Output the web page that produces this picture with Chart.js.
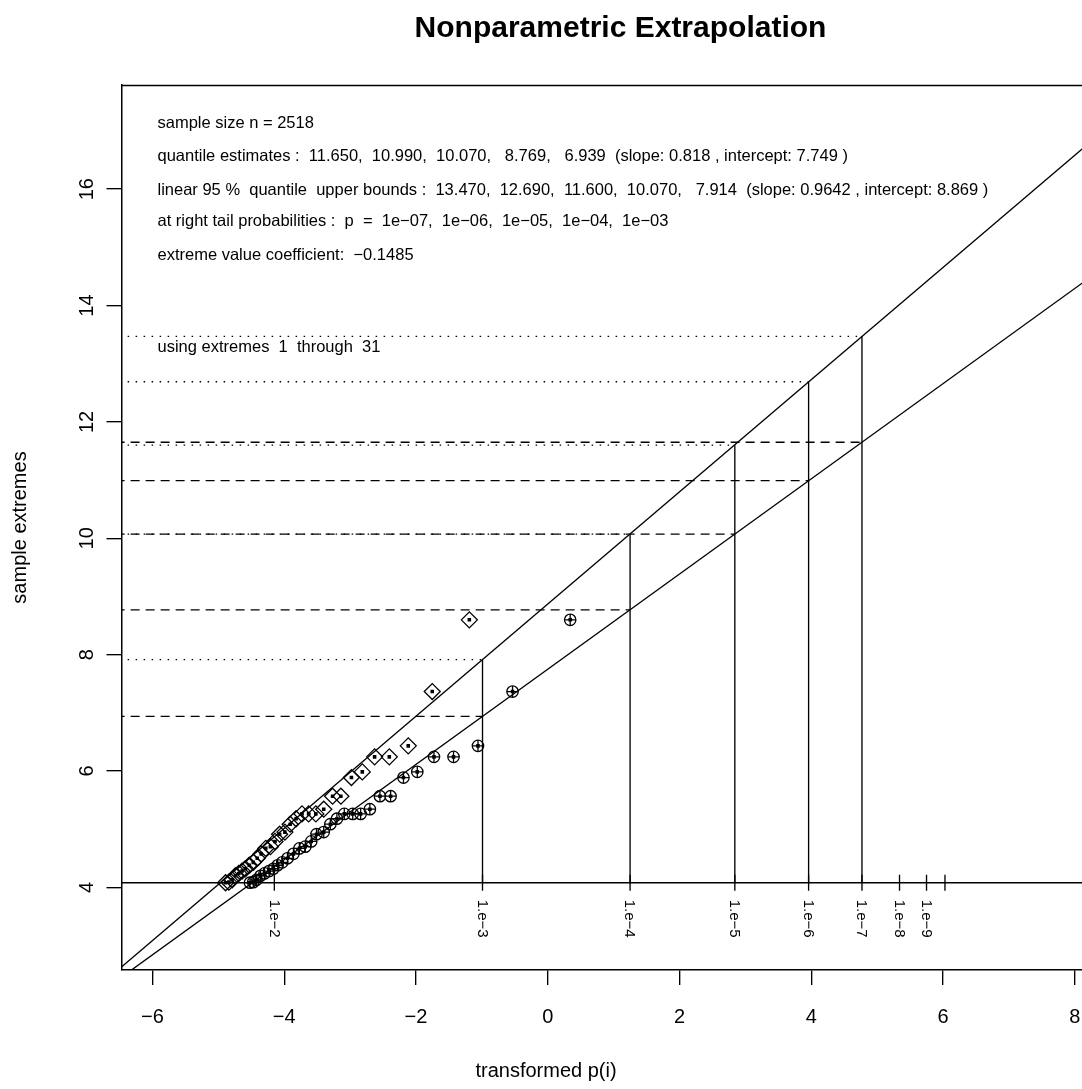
<!DOCTYPE html>
<html><head><meta charset="utf-8">
<script src="https://cdn.jsdelivr.net/npm/chart.js@4/dist/chart.umd.min.js"></script>
<style>html,body{margin:0;padding:0;background:#fff;overflow:hidden;} canvas{display:block;}</style>
</head><body>
<canvas id="c" width="1082" height="1089"></canvas>
<script>
// ---------- data ----------
const chartTitle = "Nonparametric Extrapolation";
const xTitle = "transformed p(i)";
const yTitle = "sample extremes";
const xTicks = [-6, -4, -2, 0, 2, 4, 6, 8];
const yTicks = [4, 6, 8, 10, 12, 14, 16];
const xRange = [-6.47, 8.11];
const yRange = [2.58, 17.79];

// sample extremes (y) and their transformed plotting positions
const extremes = [8.598, 7.365, 6.432, 6.243, 6.243, 5.985, 5.887, 5.567, 5.567, 5.344,
  5.263, 5.263, 5.263, 5.18, 5.086, 4.95, 4.914, 4.79, 4.70, 4.67,
  4.576, 4.50, 4.43, 4.38, 4.32, 4.28, 4.24, 4.20, 4.13, 4.09, 4.08];
const circleX = [0.341, -0.534, -1.059, -1.43, -1.727, -1.98, -2.19, -2.385, -2.547, -2.70,
  -2.84, -2.96, -3.088, -3.2, -3.3, -3.40, -3.51, -3.59, -3.68, -3.77,
  -3.86, -3.95, -4.03, -4.10, -4.165, -4.23, -4.30, -4.36, -4.42, -4.47, -4.52];
const diamondX = [-1.19, -1.753, -2.117, -2.405, -2.628, -2.815, -2.98, -3.14, -3.266, -3.40,
  -3.52, -3.63, -3.73, -3.82, -3.91, -3.99, -4.07, -4.14, -4.21, -4.28,
  -4.35, -4.41, -4.47, -4.53, -4.59, -4.64, -4.69, -4.74, -4.79, -4.84, -4.89];

const threshold = 4.08;
const probPos = [-4.15, -0.99, 1.25, 2.84, 3.96, 4.77, 5.34, 5.75, 6.03];
const probLabels = ["1.e\u22122", "1.e\u22123", "1.e\u22124", "1.e\u22125", "1.e\u22126", "1.e\u22127", "1.e\u22128", "1.e\u22129", ""];

// quantiles at p = 1e-7, 1e-6, 1e-5, 1e-4, 1e-3
const quantPos = [4.77, 3.96, 2.84, 1.25, -0.99];
const quantEst = [11.650, 10.990, 10.070, 8.769, 6.939];
const quantUpper = [13.470, 12.690, 11.600, 10.070, 7.914];
const estSlope = 0.818, estIntercept = 7.749;
const upSlope = 0.9642, upIntercept = 8.869;

const infoLines = [
  "sample size n = 2518",
  "quantile estimates :  11.650,  10.990,  10.070,   8.769,   6.939  (slope: 0.818 , intercept: 7.749 )",
  "linear 95 %  quantile  upper bounds :  13.470,  12.690,  11.600,  10.070,   7.914  (slope: 0.9642 , intercept: 8.869 )",
  "at right tail probabilities :  p  =  1e\u221207,  1e\u221206,  1e\u221205,  1e\u221204,  1e\u221203",
  "extreme value coefficient:  \u22120.1485"
];
const rangeNote = "using extremes  1  through  31";

// ---------- styles ----------
const FONT = "'Liberation Sans', Arial, Helvetica, sans-serif";
const LW = 1.35;
const DASH = [9, 6];
const DOT = [1.5, 6.5];

const pointDs = (xs, style, r, filled) => ({
  type: 'scatter',
  data: extremes.map((y, i) => ({ x: xs[i], y })),
  pointStyle: style, pointRadius: r, pointHoverRadius: r,
  pointBorderWidth: 1.3, pointHoverBorderWidth: 1.3,
  pointBorderColor: '#000', pointBackgroundColor: filled ? '#000' : 'rgba(0,0,0,0)',
  showLine: false
});
const lineDs = (pts, dash) => ({
  type: 'line', data: pts, borderColor: '#000', borderWidth: LW, borderDash: dash || [],
  pointRadius: 0, pointHoverRadius: 0, fill: false, tension: 0, showLine: true, parsing: false
});

const datasets = [];
// circles with plus and centre dot (sample extremes)
datasets.push(pointDs(circleX, 'circle', 5.7, false));
datasets.push(pointDs(circleX, 'cross', 5.7, false));
datasets.push(pointDs(circleX, 'rect', 1.6, true));
// diamonds with centre dot (upper bounds)
datasets.push(pointDs(diamondX, 'rectRot', 8, false));
datasets.push(pointDs(diamondX, 'rect', 1.6, true));
// fitted lines
const xa = xRange[0] - 1, xb = xRange[1] + 1;
datasets.push(lineDs([{ x: xa, y: estIntercept + estSlope * xa }, { x: xb, y: estIntercept + estSlope * xb }]));
datasets.push(lineDs([{ x: xa, y: upIntercept + upSlope * xa }, { x: xb, y: upIntercept + upSlope * xb }]));
// threshold
datasets.push(lineDs([{ x: xa, y: threshold }, { x: xb, y: threshold }]));
// quantile guides
quantPos.forEach((p, i) => {
  datasets.push(lineDs([{ x: xa, y: quantEst[i] }, { x: p, y: quantEst[i] }], DASH));
  datasets.push(lineDs([{ x: xa, y: quantUpper[i] }, { x: p, y: quantUpper[i] }], DOT));
  datasets.push(lineDs([{ x: p, y: quantUpper[i] }, { x: p, y: threshold }]));
});

const decor = {
  id: 'decor',
  afterDraw(chart) {
    const { ctx, chartArea: a, scales: { x, y } } = chart;
    ctx.save();
    ctx.strokeStyle = '#000'; ctx.fillStyle = '#000';
    // top border
    ctx.lineWidth = 1.5;
    ctx.beginPath(); ctx.moveTo(a.left, a.top + 0.5); ctx.lineTo(a.right, a.top + 0.5); ctx.stroke();
    // probability ticks on threshold
    const yb = y.getPixelForValue(threshold);
    ctx.lineWidth = LW;
    probPos.forEach((p, i) => {
      const px = x.getPixelForValue(p);
      ctx.beginPath(); ctx.moveTo(px, yb - 8); ctx.lineTo(px, yb + 8); ctx.stroke();
      if (probLabels[i]) {
        ctx.save(); ctx.translate(px, yb + 17); ctx.rotate(Math.PI / 2);
        ctx.font = `15px ${FONT}`; ctx.textAlign = 'left'; ctx.textBaseline = 'middle';
        ctx.fillText(probLabels[i], 0, 0.5); ctx.restore();
      }
    });
    // tick labels
    ctx.font = `20px ${FONT}`; ctx.textAlign = 'center'; ctx.textBaseline = 'middle';
    xTicks.forEach(v => {
      const s = v < 0 ? '\u2212' + Math.abs(v) : String(v);
      ctx.fillText(s, x.getPixelForValue(v), a.bottom + 47);
    });
    yTicks.forEach(v => {
      ctx.save(); ctx.translate(a.left - 34, y.getPixelForValue(v)); ctx.rotate(-Math.PI / 2);
      ctx.fillText(String(v), 0, 0); ctx.restore();
    });
    // axis titles
    ctx.fillText(xTitle, 546, 1071);
    ctx.save(); ctx.translate(20, (a.top + a.bottom) / 2); ctx.rotate(-Math.PI / 2);
    ctx.fillText(yTitle, 0, 0); ctx.restore();
    // main title
    ctx.font = `bold 30px ${FONT}`;
    ctx.fillText(chartTitle, 620.5, 29);
    // info text
    ctx.font = `16.5px ${FONT}`; ctx.textAlign = 'left';
    const tops = [123.5, 156.5, 190, 221.5, 255];
    infoLines.forEach((t, i) => ctx.fillText(t, a.left + 36, tops[i]));
    ctx.fillText(rangeNote, a.left + 36, 347);
    ctx.restore();
  }
};

new Chart(document.getElementById('c'), {
  type: 'scatter',
  data: { datasets },
  options: {
    responsive: false, animation: false, devicePixelRatio: 1, events: [],
    layout: { autoPadding: false, padding: { top: 85, right: 0, left: 0, bottom: 0 } },
    plugins: { legend: { display: false }, tooltip: { enabled: false }, title: { display: false } },
    scales: {
      x: {
        type: 'linear', min: xRange[0], max: xRange[1],
        afterBuildTicks: s => { s.ticks = xTicks.map(v => ({ value: v })); },
        afterFit: s => { s.height = 119; },
        ticks: { display: false },
        grid: { display: true, drawOnChartArea: false, drawTicks: true, tickLength: 15, color: '#000', lineWidth: LW },
        border: { display: true, color: '#000', width: 1.5 }
      },
      y: {
        type: 'linear', min: yRange[0], max: yRange[1],
        afterBuildTicks: s => { s.ticks = yTicks.map(v => ({ value: v })); },
        afterFit: s => { s.width = 121.5; },
        ticks: { display: false },
        grid: { display: true, drawOnChartArea: false, drawTicks: true, tickLength: 15, color: '#000', lineWidth: LW },
        border: { display: true, color: '#000', width: 1.5 }
      }
    }
  },
  plugins: [decor]
});
</script>
</body></html>
